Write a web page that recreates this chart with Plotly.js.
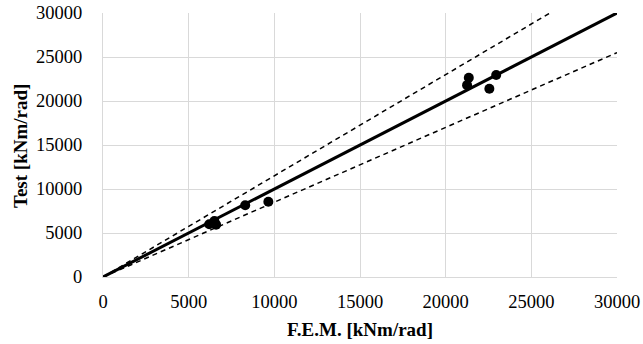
<!DOCTYPE html>
<html><head><meta charset="utf-8">
<script src="https://cdn.plot.ly/plotly-3.0.1.min.js"></script>
<style>html,body{margin:0;padding:0;background:#fff}#c{width:643px;height:344px}</style>
</head><body><div id="c"></div>
<script>
const femValues = [6200, 6500, 6600, 8300, 9650, 21250, 21350, 22550, 22950];
const testValues = [6000, 6350, 5950, 8150, 8550, 21800, 22650, 21400, 22950];
const refX = [0, 30000];
const refY = [0, 30000];
const upperX = [0, 26087];
const upperY = [0, 30000];
const lowerX = [0, 30000];
const lowerY = [0, 25500];
const tickVals = [0, 5000, 10000, 15000, 20000, 25000, 30000];
const xTitle = 'F.E.M. [kNm/rad]';
const yTitle = 'Test [kNm/rad]';

const FAM = 'Liberation Serif';
const traces = [
  {x: upperX, y: upperY, mode: 'lines', line: {color: '#000', width: 1.5, dash: '5px,4px'}, hoverinfo: 'skip'},
  {x: lowerX, y: lowerY, mode: 'lines', line: {color: '#000', width: 1.5, dash: '5px,4px'}, hoverinfo: 'skip'},
  {x: refX, y: refY, mode: 'lines', line: {color: '#000', width: 3}},
  {x: femValues, y: testValues, mode: 'markers', marker: {color: '#000', size: 10}}
];
function axis(extra) {
  return Object.assign({
    range: [0, 30000], tickmode: 'array', tickvals: tickVals, ticktext: tickVals.map(String),
    showgrid: true, gridcolor: '#d9d9d9', gridwidth: 1, zeroline: false,
    showline: true, linecolor: '#d9d9d9', linewidth: 1,
    ticks: 'outside', ticklen: 8, tickcolor: 'rgba(0,0,0,0)',
    tickfont: {family: FAM, size: 18.5, color: '#000'}
  }, extra);
}
const titleFont = {family: FAM, size: 19, color: '#000', weight: 'bold'};
const layout = {
  width: 643, height: 344, showlegend: false,
  font: {family: FAM, color: '#000'},
  margin: {l: 103, r: 26, t: 13, b: 67},
  paper_bgcolor: '#fff', plot_bgcolor: '#fff',
  xaxis: axis({}),
  yaxis: axis({ticklen: 16}),
  annotations: [
    {text: '<b>' + xTitle + '</b>', xref: 'paper', yref: 'paper', x: 0.5, y: -(329 - 277) / 264,
     xanchor: 'center', yanchor: 'middle', showarrow: false, font: titleFont},
    {text: '<b>' + yTitle + '</b>', xref: 'paper', yref: 'paper', x: -(103 - 20) / 514, y: (277 - 146) / 264,
     xanchor: 'center', yanchor: 'middle', showarrow: false, textangle: -90, font: titleFont}
  ]
};
Plotly.newPlot('c', traces, layout, {staticPlot: true});
</script></body></html>
